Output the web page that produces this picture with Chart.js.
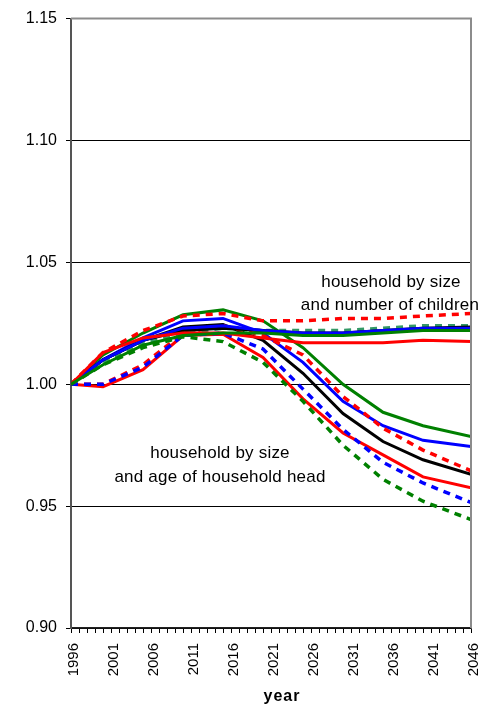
<!DOCTYPE html>
<html>
<head>
<meta charset="utf-8">
<script src="https://cdn.jsdelivr.net/npm/chart.js@4/dist/chart.umd.min.js"></script>
<style>
  html, body { margin: 0; padding: 0; background: #fff; }
  #wrap { position: relative; width: 499px; height: 709px; }
</style>
</head>
<body>
<div id="wrap"><canvas id="householdChart"></canvas></div>
<script>
// years at which the projections were computed
const years = [1996, 2000, 2005, 2010, 2015, 2020, 2025, 2030, 2035, 2040, 2046];

// household by size and number of children
const childRedDash = [1.000, 1.013, 1.022, 1.028, 1.029, 1.026, 1.026, 1.027, 1.027, 1.028, 1.029];
const childTealDash = [1.000, 1.009, 1.017, 1.021, 1.023, 1.022, 1.022, 1.022, 1.023, 1.024, 1.024];
const childBlack = [1.000, 1.010, 1.018, 1.022, 1.023, 1.022, 1.021, 1.021, 1.022, 1.023, 1.0235];
const childBlue = [1.000, 1.010, 1.018, 1.023, 1.024, 1.022, 1.021, 1.021, 1.022, 1.023, 1.023];
const childGreen = [1.000, 1.008, 1.016, 1.020, 1.021, 1.021, 1.020, 1.020, 1.021, 1.022, 1.022];
const childRed = [1.000, 1.013, 1.019, 1.021, 1.021, 1.019, 1.017, 1.017, 1.017, 1.018, 1.0175];

// household by size and age of household head
const ageGreen = [1.000, 1.012, 1.021, 1.0285, 1.0305, 1.026, 1.015, 1.000, 0.9885, 0.983, 0.9785];
const ageBlue = [1.000, 1.010, 1.019, 1.026, 1.027, 1.021, 1.009, 0.993, 0.983, 0.977, 0.9745];
const ageBlack = [1.000, 1.010, 1.018, 1.0235, 1.0245, 1.018, 1.0045, 0.988, 0.9765, 0.969, 0.963];
const ageRed = [1.000, 0.999, 1.006, 1.020, 1.0205, 1.011, 0.994, 0.980, 0.971, 0.962, 0.9575];
const ageRedDash = [1.000, 1.000, 1.008, 1.021, 1.024, 1.020, 1.012, 0.995, 0.982, 0.973, 0.9645];
const ageBlueDash = [1.000, 1.000, 1.007, 1.020, 1.021, 1.0145, 0.998, 0.9815, 0.968, 0.9595, 0.9515];
const ageGreenDash = [1.000, 1.008, 1.015, 1.0195, 1.0175, 1.009, 0.993, 0.975, 0.961, 0.952, 0.9445];

const yTicks = [0.90, 0.95, 1.00, 1.05, 1.10, 1.15];
const xLabelYears = [1996, 2001, 2006, 2011, 2016, 2021, 2026, 2031, 2036, 2041, 2046];
const xTitle = "year";
const childNote = ["household by size", "and number of children"];
const ageNote = ["household by size", "and age of household head"];

const FONT = "'Liberation Sans', Arial, sans-serif";

const toPoints = (vals) => vals.map((v, i) => ({ x: years[i], y: v }));

const line = (vals, color, dashed) => ({
  data: toPoints(vals),
  borderColor: color,
  backgroundColor: color,
  borderWidth: dashed ? 3.5 : 3,
  borderDash: dashed ? [7, 6] : [],
  pointRadius: 0,
  tension: 0,
  fill: false,
});

const framePlugin = {
  id: "frame",
  afterDraw(chart) {
    const { ctx, chartArea: a } = chart;
    ctx.save();
    // plot-area border (top and right)
    ctx.strokeStyle = "#8c8c8c";
    ctx.lineWidth = 2;
    ctx.beginPath();
    ctx.moveTo(a.left, a.top);
    ctx.lineTo(a.right, a.top);
    ctx.lineTo(a.right, a.bottom);
    ctx.stroke();

    ctx.fillStyle = "#000";
    ctx.textAlign = "center";
    ctx.textBaseline = "middle";
    ctx.font = "17px " + FONT;
    ctx.letterSpacing = "0.2px";
    ctx.fillText(childNote[0], 391, 282);
    ctx.fillText(childNote[1], 390, 305);
    ctx.fillText(ageNote[0], 220, 453);
    ctx.fillText(ageNote[1], 220, 477);

    ctx.font = "bold 16px " + FONT;
    ctx.letterSpacing = "1px";
    ctx.fillText(xTitle, 282, 697);
    ctx.restore();
  },
};

const initChart = () => {
  Chart.defaults.font.family = FONT;
  Chart.defaults.color = "#000";

  new Chart(document.getElementById("householdChart"), {
    type: "line",
    data: {
      datasets: [
        line(childGreen, "#008000", false),
        line(childRed, "#ff0000", false),
        line(childBlue, "#0000ff", false),
        line(childBlack, "#000000", false),
        line(childTealDash, "#339966", true),
        line(childRedDash, "#ff0000", true),
        line(ageGreenDash, "#008000", true),
        line(ageBlueDash, "#0000ff", true),
        line(ageRedDash, "#ff0000", true),
        line(ageRed, "#ff0000", false),
        line(ageBlack, "#000000", false),
        line(ageBlue, "#0000ff", false),
        line(ageGreen, "#008000", false),
      ],
    },
    options: {
      responsive: true,
      maintainAspectRatio: false,
      animation: false,
      layout: { padding: { top: 15, right: 6, left: 0, bottom: 0 } },
      plugins: { legend: { display: false }, tooltip: { enabled: false } },
      scales: {
        x: {
          type: "linear",
          min: 1996,
          max: 2046,
          afterFit: (s) => { s.height = 81; },
          ticks: {
            stepSize: 1,
            autoSkip: false,
            minRotation: 90,
            maxRotation: 90,
            padding: 10,
            labelOffset: 3,
            font: { size: 15 },
            callback: (v) => (xLabelYears.includes(v) ? String(v) : ""),
          },
          grid: {
            drawOnChartArea: false,
            drawTicks: true,
            tickLength: 5,
            tickColor: "#000",
            tickWidth: 1,
          },
          border: { display: true, color: "#222", width: 1.5 },
        },
        y: {
          min: 0.9,
          max: 1.15,
          afterFit: (s) => { s.width = 71; },
          afterBuildTicks: (s) => { s.ticks = yTicks.map((v) => ({ value: v })); },
          ticks: {
            padding: 9,
            font: { size: 16 },
            callback: (v) => Number(v).toFixed(2),
          },
          grid: {
            color: (c) => (c.tick && Math.abs(c.tick.value - 1.15) < 1e-6 ? "#8c8c8c" : "#000"),
            lineWidth: 1,
            drawTicks: true,
            tickLength: 5,
            tickColor: "#000",
          },
          border: { display: true, color: "#555", width: 2 },
        },
      },
    },
    plugins: [framePlugin],
  });
};

document.addEventListener("DOMContentLoaded", initChart);
</script>
</body>
</html>
